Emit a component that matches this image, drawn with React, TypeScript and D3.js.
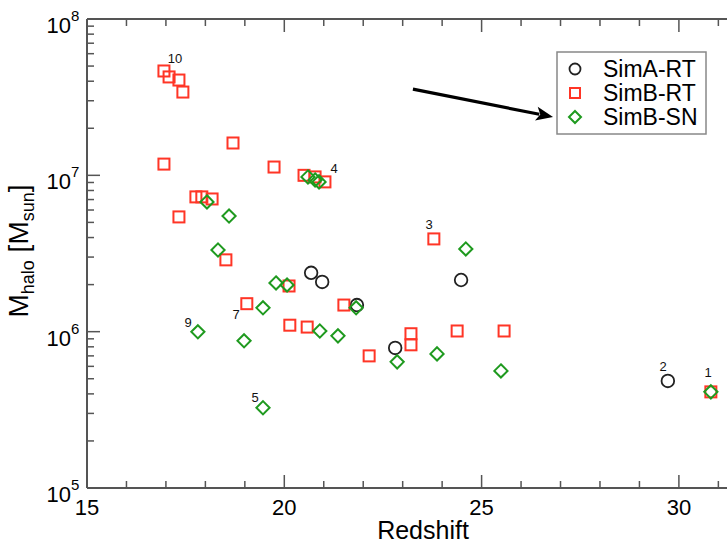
import React from 'react';
import * as d3 from 'd3';

// ---- data ----
const simARTz = [20.68, 20.96, 21.84, 22.81, 24.48, 29.72];
const simARTm = [2.38e6, 2.08e6, 1.48e6, 7.87e5, 2.14e6, 4.84e5];

const simBRTz = [16.95, 17.08, 17.33, 17.43, 18.70, 16.95, 19.74, 20.50, 20.78, 21.03, 17.76, 17.91, 18.17, 17.33, 18.52, 20.12, 19.05, 20.14, 20.58, 21.51, 22.15, 23.21, 23.21, 24.38, 25.57, 23.79, 30.81];
const simBRTm = [4.65e7, 4.26e7, 4.07e7, 3.41e7, 1.61e7, 1.18e7, 1.13e7, 1.0e7, 9.77e6, 9.08e6, 7.28e6, 7.28e6, 7.06e6, 5.42e6, 2.88e6, 1.96e6, 1.51e6, 1.10e6, 1.07e6, 1.48e6, 7.0e5, 9.7e5, 8.24e5, 1.01e6, 1.01e6, 3.92e6, 4.12e5];

const simBSNz = [18.04, 18.60, 20.60, 20.78, 20.88, 18.32, 19.79, 20.07, 19.46, 17.81, 18.98, 20.90, 21.36, 19.46, 24.60, 21.82, 22.86, 23.87, 25.49, 30.81];
const simBSNm = [6.76e6, 5.49e6, 9.77e6, 9.35e6, 9.08e6, 3.33e6, 2.05e6, 1.99e6, 1.42e6, 9.98e5, 8.74e5, 1.01e6, 9.4e5, 3.26e5, 3.38e6, 1.42e6, 6.41e5, 7.21e5, 5.61e5, 4.12e5];

const pointLabels = ['10', '4', '3', '9', '7', '5', '2', '1'];
const pointLabelZ = [17.23, 21.26, 23.67, 17.56, 18.78, 19.26, 29.60, 30.74];
const pointLabelM = [5.55e7, 1.11e7, 4.82e6, 1.14e6, 1.28e6, 3.78e5, 5.96e5, 5.46e5];

const xMajorTicks = [15, 20, 25, 30];
const xMinorTicks = [16, 17, 18, 19, 21, 22, 23, 24, 26, 27, 28, 29, 31, 32];
const yMajorTicks = [1e5, 1e6, 1e7, 1e8];

const legendNames = ['SimA-RT', 'SimB-RT', 'SimB-SN'];

const arrowFrom = [23.26, 3.56e7];
const arrowTo = [26.81, 2.36e7];

// ---- styles ----
const W = 727;
const H = 545;
const FONT = "'Liberation Sans', Arial, Helvetica, sans-serif";
const AXIS = '#555';
const RED = '#ff3526';
const GREEN = '#1f9a1f';
const BLACK = '#222';

const x = d3.scaleLinear().domain([15, 35]).range([87, 87 + 20 * 39.46]);
const y = d3.scaleLog().domain([1e5, 1e8]).range([488, 19]);

function Circle({ cx, cy, r = 6.3 }: any) {
  return <circle cx={cx} cy={cy} r={r} fill="none" stroke={BLACK} strokeWidth={1.8} />;
}
function Square({ cx, cy, s = 11 }: any) {
  return <rect x={cx - s / 2} y={cy - s / 2} width={s} height={s} fill="none" stroke={RED} strokeWidth={2} />;
}
function Diamond({ cx, cy, h = 6.6 }: any) {
  const d = `M${cx},${cy - h}L${cx + h},${cy}L${cx},${cy + h}L${cx - h},${cy}Z`;
  return <path d={d} fill="none" stroke={GREEN} strokeWidth={2} />;
}

export default function App() {
  const x0 = x(15);
  const yTop = y(1e8);
  const yBot = y(1e5);

  const yMinor: number[] = [];
  for (let e = 5; e < 8; e++) for (let k = 2; k <= 9; k++) yMinor.push(k * Math.pow(10, e));

  // arrow geometry
  const ax1 = x(arrowFrom[0]), ay1 = y(arrowFrom[1]);
  const ax2 = x(arrowTo[0]), ay2 = y(arrowTo[1]);
  const ang = Math.atan2(ay2 - ay1, ax2 - ax1);
  const headL = 17, headW = 7;
  const bx = ax2 - headL * Math.cos(ang), by = ay2 - headL * Math.sin(ang);
  const px = -Math.sin(ang) * headW, py = Math.cos(ang) * headW;
  const head = `M${ax2},${ay2}L${bx + px},${by + py}L${bx + 4 * Math.cos(ang)},${by + 4 * Math.sin(ang)}L${bx - px},${by - py}Z`;

  const legX = 557, legY = 52, legW = 149, legH = 82;
  const legRows = [69, 93, 117];

  return (
    <svg width={W} height={H} style={{ position: 'absolute', left: 0, top: 0, background: '#fff' }} fontFamily={FONT}>
      <rect x={0} y={0} width={W} height={H} fill="#fff" />
      {/* axes lines */}
      <line x1={x0} x2={W} y1={yTop} y2={yTop} stroke={AXIS} strokeWidth={2} />
      <line x1={x0} x2={W} y1={yBot} y2={yBot} stroke={AXIS} strokeWidth={2} />
      <line x1={x0} x2={x0} y1={yTop} y2={yBot} stroke={AXIS} strokeWidth={2} />
      {/* x ticks */}
      {xMajorTicks.map((t) => (
        <g key={'xM' + t}>
          <line x1={x(t)} x2={x(t)} y1={yBot} y2={yBot - 13} stroke={AXIS} strokeWidth={1.5} />
          <line x1={x(t)} x2={x(t)} y1={yTop} y2={yTop + 13} stroke={AXIS} strokeWidth={1.5} />
          <text x={x(t)} y={515} fontSize={22} textAnchor="middle" fill="#000">{t}</text>
        </g>
      ))}
      {xMinorTicks.map((t) => (
        <g key={'xm' + t}>
          <line x1={x(t)} x2={x(t)} y1={yBot} y2={yBot - 7} stroke={AXIS} strokeWidth={1.5} />
          <line x1={x(t)} x2={x(t)} y1={yTop} y2={yTop + 7} stroke={AXIS} strokeWidth={1.5} />
        </g>
      ))}
      {/* y ticks */}
      {yMajorTicks.map((t) => (
        <g key={'yM' + t}>
          <line x1={x0} x2={x0 + 13} y1={y(t)} y2={y(t)} stroke={AXIS} strokeWidth={1.5} />
          <text x={71} y={y(t) + 14} fontSize={22} textAnchor="end" fill="#000">10</text>
          <text x={71} y={y(t) + 2} fontSize={15} textAnchor="start" fill="#000">{Math.round(Math.log10(t))}</text>
        </g>
      ))}
      {yMinor.map((t) => (
        <line key={'ym' + t} x1={x0} x2={x0 + 7} y1={y(t)} y2={y(t)} stroke={AXIS} strokeWidth={1.5} />
      ))}
      {/* axis titles */}
      <text x={423} y={539} fontSize={25} textAnchor="middle" fill="#000">Redshift</text>
      <text transform="translate(28,251) rotate(-90)" fontSize={28} textAnchor="middle" fill="#000">
        M<tspan fontSize={18} dy={6}>halo</tspan><tspan dy={-6}> [M</tspan><tspan fontSize={18} dy={6}>sun</tspan><tspan dy={-6}>]</tspan>
      </text>

      {/* data */}
      {simARTz.map((z, i) => <Circle key={'a' + i} cx={x(z)} cy={y(simARTm[i])} />)}
      {simBRTz.map((z, i) => <Square key={'b' + i} cx={x(z)} cy={y(simBRTm[i])} />)}
      {simBSNz.map((z, i) => <Diamond key={'c' + i} cx={x(z)} cy={y(simBSNm[i])} />)}

      {/* point labels */}
      {pointLabels.map((t, i) => (
        <text key={'l' + i} x={x(pointLabelZ[i])} y={y(pointLabelM[i])} fontSize={13} textAnchor="middle" dominantBaseline="central" fill="#111">{t}</text>
      ))}

      {/* arrow */}
      <line x1={ax1} y1={ay1} x2={bx + 3 * Math.cos(ang)} y2={by + 3 * Math.sin(ang)} stroke="#000" strokeWidth={3.2} />
      <path d={head} fill="#000" />

      {/* legend */}
      <rect x={legX} y={legY} width={legW} height={legH} fill="#fff" stroke="#888" strokeWidth={1.5} />
      <Circle cx={575} cy={legRows[0]} r={5.5} />
      <Square cx={575} cy={legRows[1]} s={10} />
      <Diamond cx={575} cy={legRows[2]} h={6} />
      {legendNames.map((n, i) => (
        <text key={n} x={603} y={legRows[i] + 8} fontSize={23} fill="#000">{n}</text>
      ))}
    </svg>
  );
}
